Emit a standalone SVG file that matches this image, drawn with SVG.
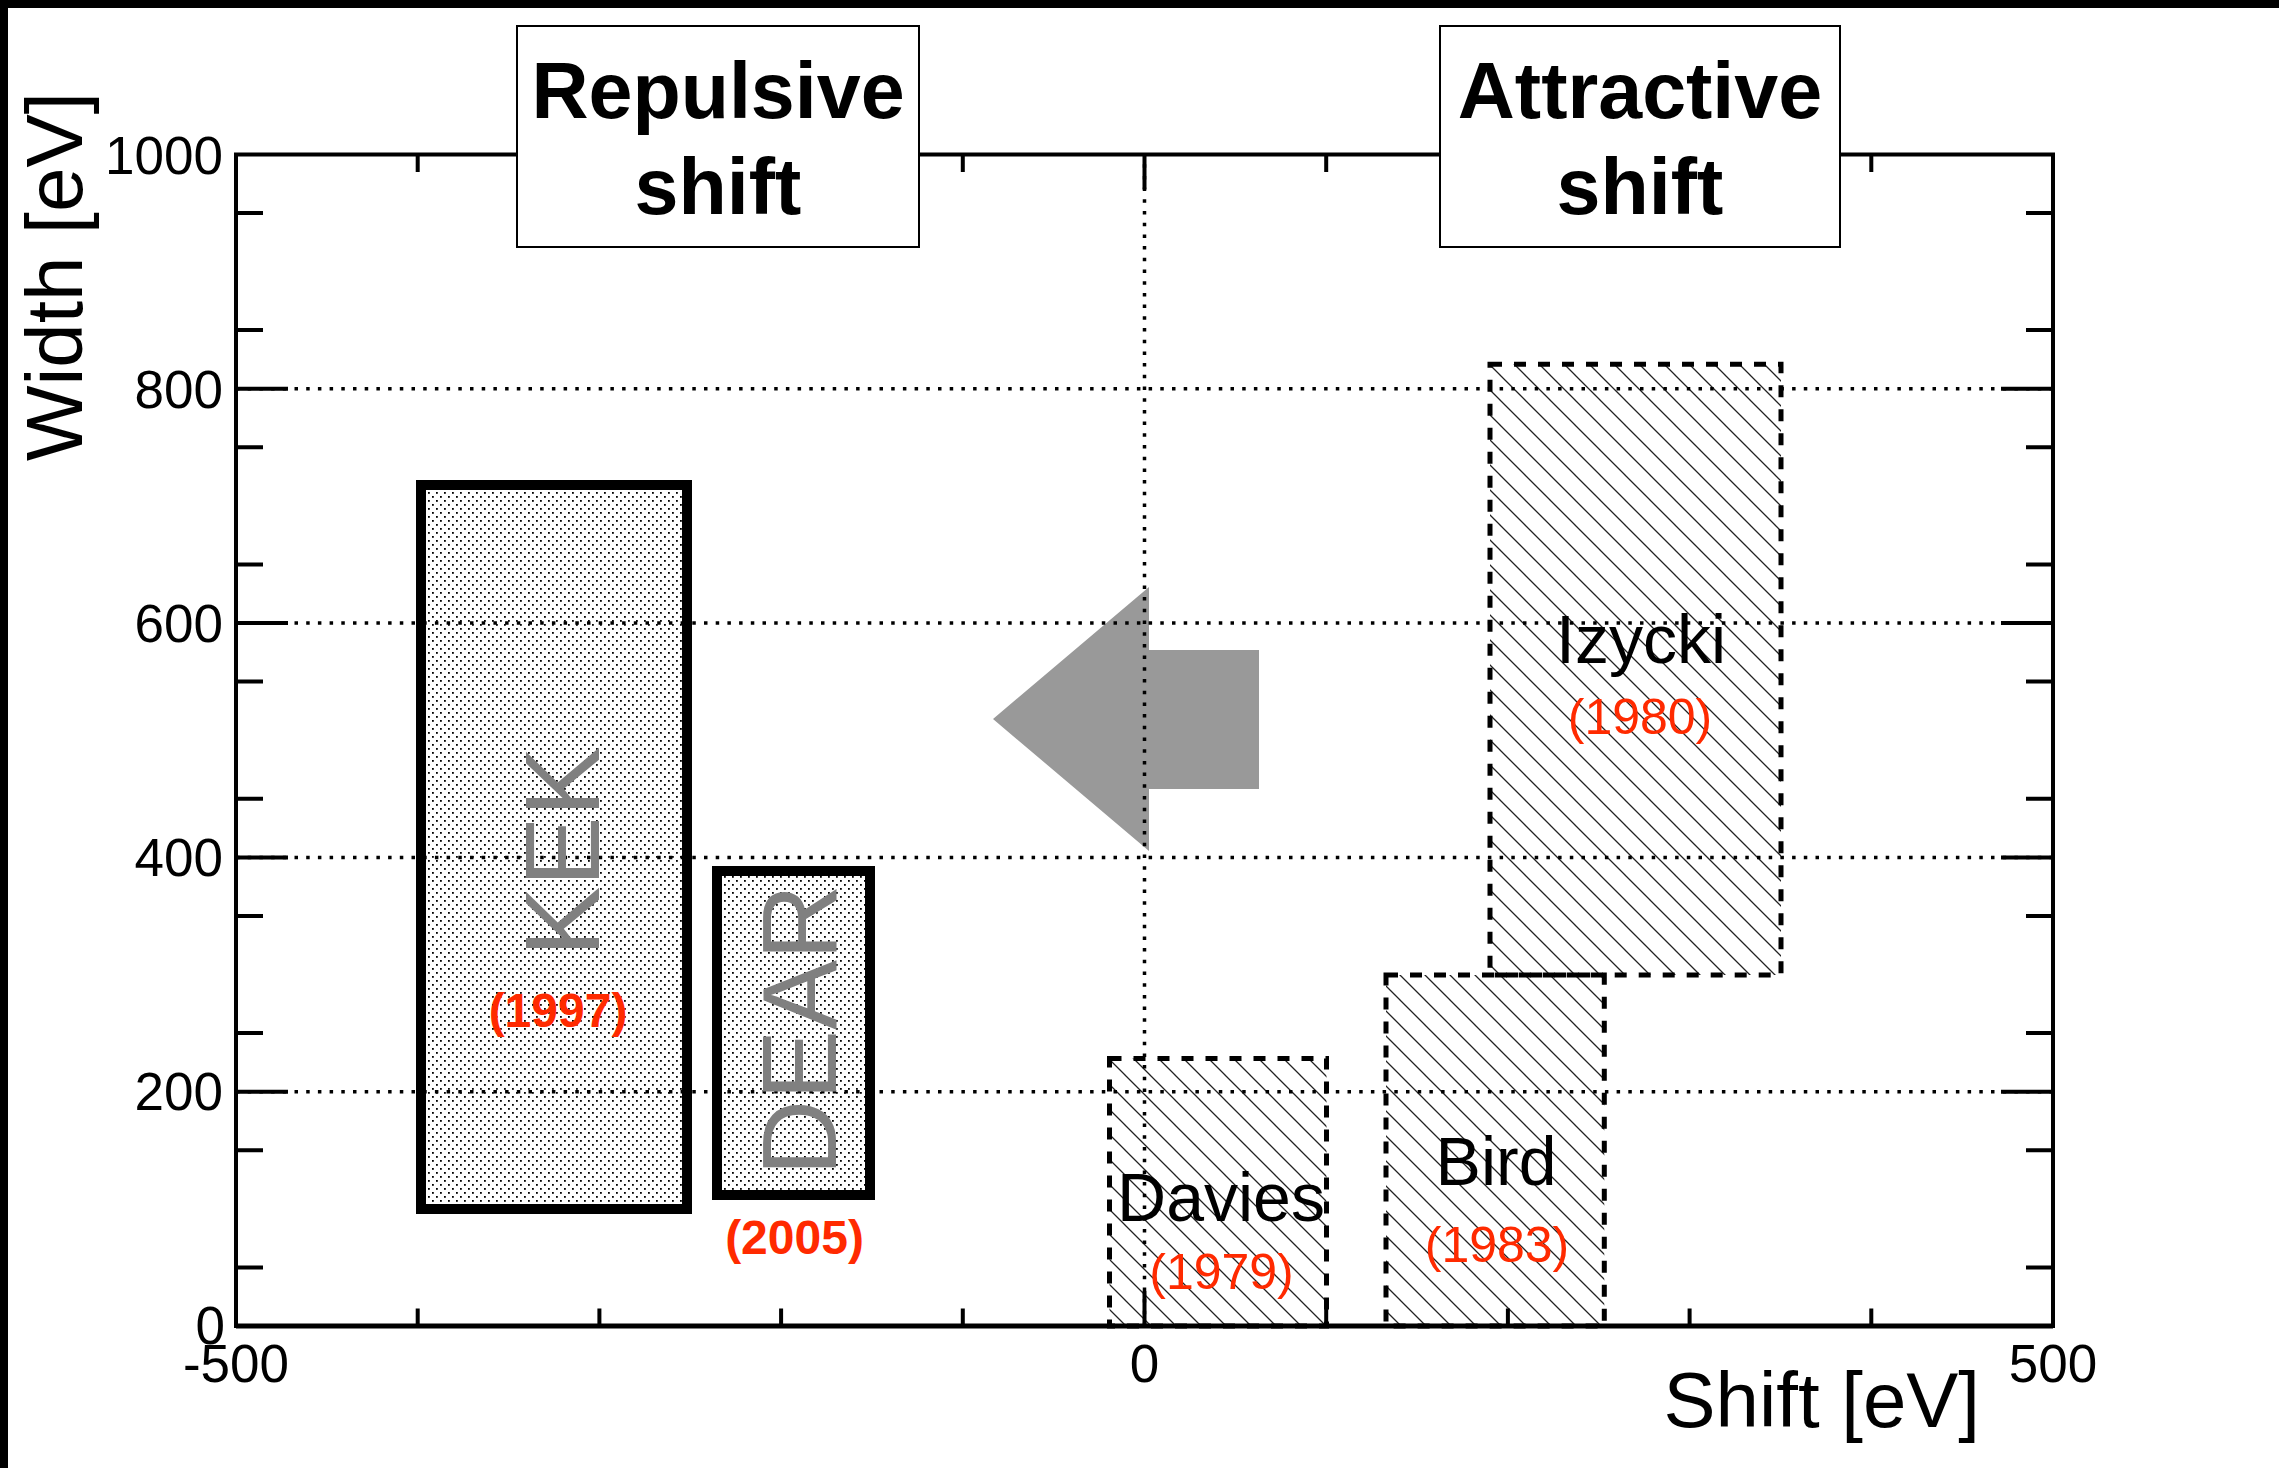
<svg xmlns="http://www.w3.org/2000/svg" width="2279" height="1468" viewBox="0 0 2279 1468">
<style>
  text { font-family: "Liberation Sans", Arial, Helvetica, sans-serif; }
  .tick { stroke: #000; stroke-width: 4; fill: none; }
  .frame { stroke: #000; stroke-width: 4; fill: none; }
  .grid { stroke: #000; stroke-width: 3.5; stroke-dasharray: 3.5 8.2; fill: none; }
  .lab { font-size: 53px; fill: #000; }
  .axt { font-size: 78px; fill: #000; }
  .solid { stroke: #000; stroke-width: 10; fill: url(#dots); }
  .dash { stroke: #000; stroke-width: 5; stroke-dasharray: 12 12; fill: url(#hatch); }
  .big { font-size: 105px; fill: #808080; text-anchor: middle; }
  .yrb { font-size: 48px; font-weight: bold; fill: #ff2a00; text-anchor: middle; }
  .yr { font-size: 50px; fill: #ff2a00; text-anchor: middle; }
  .name { font-size: 68px; fill: #000; text-anchor: middle; }
  .ttl { font-size: 79px; font-weight: bold; fill: #000; text-anchor: middle; }
  .tbox { fill: #fff; stroke: #000; stroke-width: 2; }
</style>
<defs>
  <pattern id="dots" patternUnits="userSpaceOnUse" width="8" height="8">
    <rect x="0" y="0" width="1.8" height="1.8" fill="#000"/>
    <rect x="4" y="4" width="1.8" height="1.8" fill="#000"/>
  </pattern>
  <pattern id="hatch" patternUnits="userSpaceOnUse" width="25" height="25">
    <path d="M0,0 L25,25 M-5,20 L5,30 M20,-5 L30,5" stroke="#222" stroke-width="1.3" fill="none"/>
  </pattern>
</defs>
<rect x="0" y="0" width="2279" height="1468" fill="#fff"/>
<rect x="0" y="0" width="2279" height="8" fill="#000"/>
<rect x="0" y="0" width="8" height="1468" fill="#000"/>

<g id="data-boxes">
  <g id="kek">
    <rect class="solid" x="421" y="485" width="266" height="724"/>
  </g>
  <g id="dear">
    <rect class="solid" x="717" y="871" width="153" height="324"/>
  </g>
  <g id="davies">
    <rect class="dash" x="1109.5" y="1058.5" width="217" height="267.5"/>
  </g>
  <g id="bird">
    <rect class="dash" x="1386" y="975" width="218.3" height="351"/>
  </g>
  <g id="izycki">
    <rect class="dash" x="1490" y="364.3" width="291" height="610.7"/>
  </g>
</g>

<g id="connectors">
  <polygon id="shift-arrow" points="993,719 1149,587 1149,650 1259,650 1259,789 1149,789 1149,851" fill="#999999"/>
</g>

<g id="grid">
  <path class="grid" d="M236,1091.7 H2053 M236,857.4 H2053 M236,623.1 H2053 M236,388.8 H2053 M1144.5,1326 V154.5"/>
</g>

<g id="axes">
  <rect class="frame" x="236" y="154.5" width="1817" height="1171.5"/>
  <path d="M236,1326 H2053" stroke="#000" stroke-width="5"/>
  <path class="tick" d="M236,1091.7 h52 M236,857.4 h52 M236,623.1 h52 M236,388.8 h52
    M236,1267.4 h27 M236,1150.3 h27 M236,1033 h27 M236,916 h27 M236,798.7 h27 M236,681.6 h27 M236,564.4 h27 M236,447.3 h27 M236,330.1 h27 M236,213 h27"/>
  <path class="tick" d="M2053,1091.7 h-52 M2053,857.4 h-52 M2053,623.1 h-52 M2053,388.8 h-52
    M2053,1267.4 h-27 M2053,1150.3 h-27 M2053,1033 h-27 M2053,916 h-27 M2053,798.7 h-27 M2053,681.6 h-27 M2053,564.4 h-27 M2053,447.3 h-27 M2053,330.1 h-27 M2053,213 h-27"/>
  <path class="tick" d="M1144.5,1326 v-35 M417.7,1326 v-17.5 M599.4,1326 v-17.5 M781.1,1326 v-17.5 M962.8,1326 v-17.5 M1326.2,1326 v-17.5 M1507.9,1326 v-17.5 M1689.6,1326 v-17.5 M1871.3,1326 v-17.5"/>
  <path class="tick" d="M1144.5,154.5 v35 M417.7,154.5 v17.5 M599.4,154.5 v17.5 M781.1,154.5 v17.5 M962.8,154.5 v17.5 M1326.2,154.5 v17.5 M1507.9,154.5 v17.5 M1689.6,154.5 v17.5 M1871.3,154.5 v17.5"/>
  <g class="lab" text-anchor="end">
    <text x="223" y="174">1000</text>
    <text x="223" y="408">800</text>
    <text x="223" y="642">600</text>
    <text x="223" y="876">400</text>
    <text x="223" y="1110">200</text>
    <text x="225" y="1344">0</text>
  </g>
  <g class="lab" text-anchor="middle">
    <text x="236" y="1382">-500</text>
    <text x="1144.5" y="1382">0</text>
    <text x="2053" y="1382">500</text>
  </g>
  <text class="axt" x="1980" y="1427" text-anchor="end">Shift [eV]</text>
  <text class="axt" transform="translate(82,92) rotate(-90)" text-anchor="end" style="font-size:80px">Width [eV]</text>
</g>

<g id="labels">
  <text class="big" transform="translate(599,851.5) rotate(-90)">KEK</text>
  <text class="yrb" x="558" y="1027">(1997)</text>
  <text class="big" transform="translate(836,1030) rotate(-90)">DEAR</text>
  <text class="yrb" x="794.5" y="1254">(2005)</text>
  <text class="name" x="1221" y="1221">Davies</text>
  <text class="yr" x="1221.5" y="1289">(1979)</text>
  <text class="name" x="1496" y="1185">Bird</text>
  <text class="yr" x="1497" y="1262">(1983)</text>
  <text class="name" x="1641" y="663">Izycki</text>
  <text class="yr" x="1640" y="734">(1980)</text>
</g>

<g id="title-repulsive">
  <rect class="tbox" x="517" y="26" width="402" height="221"/>
  <text class="ttl" x="718" y="118">Repulsive</text>
  <text class="ttl" x="718" y="214">shift</text>
</g>
<g id="title-attractive">
  <rect class="tbox" x="1440" y="26" width="400" height="221"/>
  <text class="ttl" x="1640" y="118">Attractive</text>
  <text class="ttl" x="1640" y="214">shift</text>
</g>
</svg>
